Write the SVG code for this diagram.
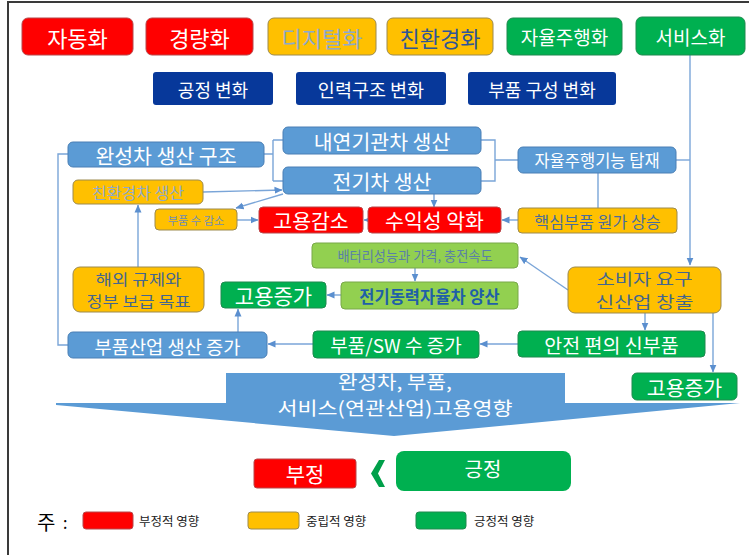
<svg xmlns="http://www.w3.org/2000/svg" width="749" height="555" viewBox="0 0 749 555">
<defs>
<marker id="ah" viewBox="0 0 8 8" refX="7.5" refY="4" markerWidth="8" markerHeight="8" markerUnits="userSpaceOnUse" orient="auto">
<path d="M0,0.5 L8,4 L0,7.5 Z" fill="#5B8FCF"/>
</marker>
<style>
.t{font-family:"Noto Sans CJK KR","Noto Sans",sans-serif;text-anchor:middle;dominant-baseline:central}
.l{font-family:"Noto Sans CJK KR","Noto Sans",sans-serif;dominant-baseline:central}
.w{fill:#FFFFFF}
.red{fill:#FF0000;stroke:#B8474A;stroke-width:1}
.yel{fill:#FFC000;stroke:#9C8A4E;stroke-width:1}
.grn{fill:#00B050;stroke:#1E8A4E;stroke-width:1}
.blu{fill:#5B9BD5;stroke:#4A7FB5;stroke-width:1}
.lgr{fill:#92D050;stroke:#78A848;stroke-width:1}
.nav{fill:#07389A}
.c{fill:none;stroke:#7AA5D8;stroke-width:1.4}
.ca{fill:none;stroke:#7AA5D8;stroke-width:1.4;marker-end:url(#ah)}
</style>
</defs>
<rect x="0" y="0" width="749" height="555" fill="#FFFFFF"/>
<rect x="8" y="2" width="800" height="700" fill="none" stroke="#3A3A3A" stroke-width="2"/>

<!-- big arrow -->
<g id="bigArrow">
<polygon points="226,373 565,373 565,403 740,403 394,436 56,405 56,403 226,403" fill="#5B9BD5"/>
<text class="t w" x="395" y="381" font-size="18.5" textLength="114" lengthAdjust="spacingAndGlyphs">완성차, 부품,</text>
<text class="t w" x="395" y="407" font-size="18.5" textLength="235" lengthAdjust="spacingAndGlyphs">서비스(연관산업)고용영향</text>
</g>

<g id="connectors">
<path class="ca" d="M690,55 V265"/>
<path class="c" d="M481,140 H495 V181 H481 M495,160 H518"/>
<path class="c" d="M676,160 H690"/>
<path class="c" d="M598,173 V208"/>
<path class="ca" d="M518,220 H502"/>
<path class="ca" d="M368,220 H364"/>
<path class="ca" d="M434,194 V207"/>
<path class="ca" d="M237,220 H258"/>
<path class="ca" d="M283,194 L236,208"/>
<path class="ca" d="M203,192 L282,190"/>
<path class="c" d="M68,154 H58 V345 H68"/>
<path class="c" d="M264,154 H273 M273,140 V181 M273,140 H283 M273,181 H283"/>
<path class="ca" d="M138,267 V205"/>
<path class="ca" d="M238,332 V309"/>
<path class="ca" d="M341,295 H327"/>
<path class="ca" d="M415,268 V281"/>
<path class="ca" d="M568,290 L520,257"/>
<path class="ca" d="M645,313 V330"/>
<path class="ca" d="M518,344 H480"/>
<path class="ca" d="M313,344 H268"/>
<path class="ca" d="M713,313 V372"/>
</g>

<!-- top row -->
<g id="n-automation"><rect class="red" x="22" y="18" width="111" height="37" rx="6"/><text class="t w" x="77.5" y="36.5" font-size="22">자동화</text></g>
<g id="n-lightweight"><rect class="red" x="146" y="18" width="107" height="37" rx="6"/><text class="t w" x="199.5" y="36.5" font-size="22">경량화</text></g>
<g id="n-digital"><rect class="yel" x="268" y="18" width="108" height="37" rx="6"/><text class="t" x="322" y="36.5" font-size="22" fill="#8DA9CB">디지털화</text></g>
<g id="n-eco"><rect class="yel" x="387" y="18" width="106" height="37" rx="6"/><text class="t" x="440" y="36.5" font-size="22" fill="#2F5597">친환경화</text></g>
<g id="n-autonomous"><rect class="grn" x="507" y="18" width="115" height="37" rx="6"/><text class="t w" x="564.5" y="36.5" font-size="19">자율주행화</text></g>
<g id="n-service"><rect class="grn" x="636" y="17" width="109" height="38" rx="6"/><text class="t w" x="690.5" y="36" font-size="19">서비스화</text></g>

<!-- navy row -->
<g id="n-process"><rect class="nav" x="153" y="72" width="120" height="33" rx="3"/><text class="t w" x="213" y="88.5" font-size="18">공정 변화</text></g>
<g id="n-workforce"><rect class="nav" x="296" y="72" width="150" height="33" rx="3"/><text class="t w" x="371" y="88.5" font-size="18.5">인력구조 변화</text></g>
<g id="n-parts"><rect class="nav" x="468" y="72" width="148" height="33" rx="3"/><text class="t w" x="542" y="88.5" font-size="18">부품 구성 변화</text></g>

<!-- middle -->
<g id="n-vehicle-structure"><rect class="blu" x="68" y="142" width="196" height="25" rx="5"/><text class="t w" x="166" y="154.5" font-size="20.5">완성차 생산 구조</text></g>
<g id="n-ice"><rect class="blu" x="283" y="127" width="198" height="27" rx="5"/><text class="t w" x="382" y="140.5" font-size="20.5">내연기관차 생산</text></g>
<g id="n-ev"><rect class="blu" x="283" y="167" width="198" height="27" rx="5"/><text class="t w" x="382" y="180.5" font-size="20.5">전기차 생산</text></g>
<g id="n-ad-function"><rect class="blu" x="518" y="147" width="158" height="26" rx="5"/><text class="t w" x="597" y="160" font-size="16.5">자율주행기능 탑재</text></g>
<g id="n-eco-production"><rect class="yel" x="73" y="180" width="130" height="24" rx="5"/><text class="t" x="138" y="192" font-size="16" fill="#8DA9CB">친환경차 생산</text></g>
<g id="n-parts-decrease"><rect class="yel" x="155" y="209" width="82" height="21" rx="4"/><text class="t" x="196" y="219.5" font-size="11.2" fill="#6F8DB5">부품 수 감소</text></g>
<g id="n-job-decrease"><rect class="red" x="259" y="207" width="104" height="26" rx="4"/><text class="t w" x="311" y="220" font-size="20.5">고용감소</text></g>
<g id="n-profit"><rect class="red" x="368" y="207" width="133" height="26" rx="4"/><text class="t w" x="434.5" y="220" font-size="20.5">수익성 악화</text></g>
<g id="n-core-cost"><rect class="yel" x="518" y="208" width="159" height="25" rx="4"/><text class="t" x="597.5" y="220.5" font-size="16.2" fill="#4A6C9B">핵심부품 원가 상승</text></g>
<g id="n-battery"><rect class="lgr" x="312" y="243" width="206" height="25" rx="4"/><text class="t" x="415" y="255.5" font-size="13.2" fill="#5A7FA8">배터리성능과 가격, 충전속도</text></g>
<g id="n-overseas"><rect class="yel" x="73" y="267" width="131" height="45" rx="7"/><text class="t" x="138.5" y="278" font-size="15.3" fill="#44668F" textLength="86" lengthAdjust="spacingAndGlyphs">해외 규제와</text><text class="t" x="138.5" y="300.3" font-size="15.3" fill="#44668F" textLength="104" lengthAdjust="spacingAndGlyphs">정부 보급 목표</text></g>
<g id="n-job-increase-1"><rect class="grn" x="221" y="282" width="105" height="26" rx="4"/><text class="t w" x="273.5" y="295" font-size="21">고용증가</text></g>
<g id="n-ev-ad-mass"><rect class="lgr" x="341" y="282" width="177" height="27" rx="4"/><text class="t" x="429.5" y="295.5" font-size="16.5" font-weight="bold" fill="#1F5FA8">전기동력자율차 양산</text></g>
<g id="n-consumer"><rect class="yel" x="568" y="267" width="153" height="46" rx="7"/><text class="t" x="644.5" y="278.5" font-size="15.9" fill="#44668F" textLength="96" lengthAdjust="spacingAndGlyphs">소비자 요구</text><text class="t" x="644.5" y="301.6" font-size="15.9" fill="#44668F" textLength="98" lengthAdjust="spacingAndGlyphs">신산업 창출</text></g>
<g id="n-parts-industry"><rect class="blu" x="68" y="332" width="199" height="26" rx="5"/><text class="t w" x="167.5" y="345" font-size="18.7">부품산업 생산 증가</text></g>
<g id="n-parts-sw"><rect class="grn" x="313" y="331" width="166" height="27" rx="4"/><text class="t w" x="396" y="344.5" font-size="19">부품/SW 수 증가</text></g>
<g id="n-safety"><rect class="grn" x="518" y="331" width="187" height="26" rx="4"/><text class="t w" x="611.5" y="344" font-size="19.5">안전 편의 신부품</text></g>
<g id="n-job-increase-2"><rect class="grn" x="632" y="373" width="105" height="27" rx="5"/><text class="t w" x="684.5" y="386.5" font-size="20.5">고용증가</text></g>

<!-- bottom comparison -->
<g id="n-negative"><rect class="red" x="254" y="459" width="102" height="29" rx="3"/><text class="t w" x="305" y="473" font-size="21">부정</text></g>
<g id="n-chevron"><polygon points="385,460 378,473.5 385,487 379,487 371,473.5 379,460" fill="#00A04A"/></g>
<g id="n-positive"><rect fill="#00B050" x="396" y="451" width="175" height="40" rx="8"/><text class="t w" x="483" y="468" font-size="20">긍정</text></g>

<!-- legend -->
<g id="legend">
<text class="l" x="37" y="521" font-size="20" fill="#000">주</text>
<text class="l" x="63" y="522" font-size="16" fill="#000">:</text>
<rect class="red" x="83" y="512" width="50" height="17" rx="3"/>
<text class="l" x="139" y="520" font-size="12.5" fill="#222">부정적 영향</text>
<rect class="yel" x="248" y="512" width="51" height="17" rx="3"/>
<text class="l" x="306" y="520" font-size="12.5" fill="#222">중립적 영향</text>
<rect class="grn" x="416" y="512" width="50" height="17" rx="3"/>
<text class="l" x="474" y="520" font-size="12.5" fill="#222">긍정적 영향</text>
</g>
</svg>
